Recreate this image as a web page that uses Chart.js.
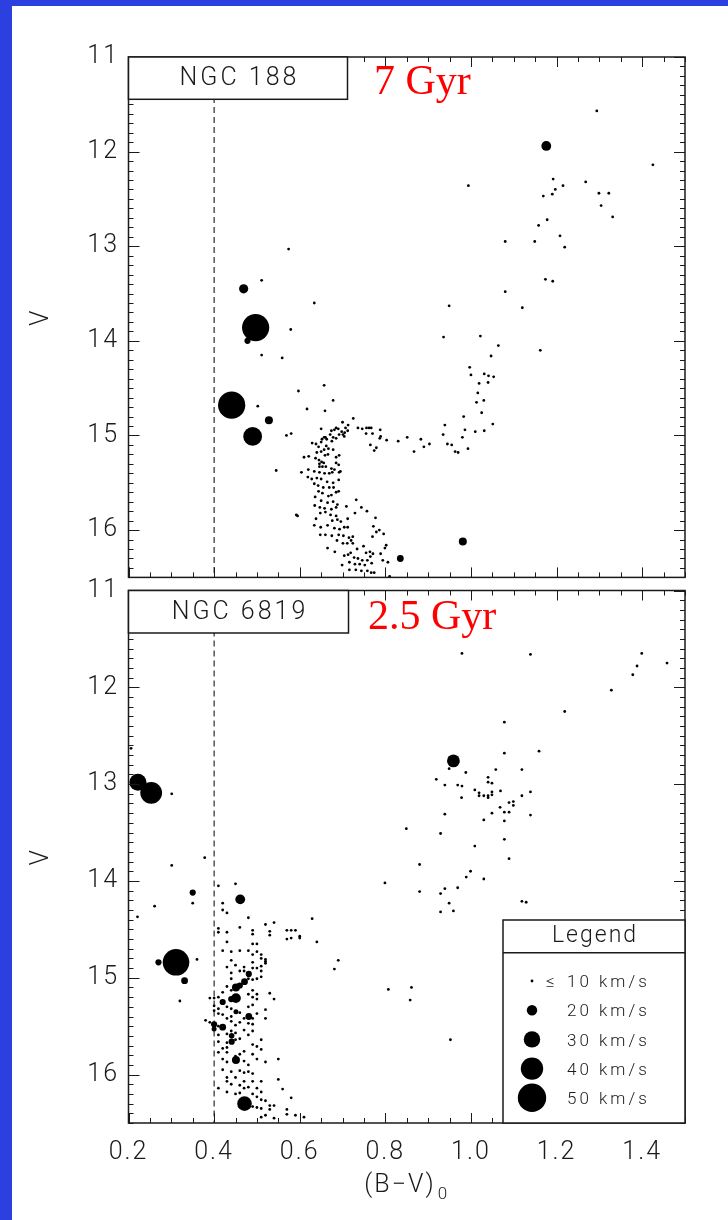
<!DOCTYPE html>
<html>
<head>
<meta charset="utf-8">
<title>NGC 188 and NGC 6819 colour-magnitude diagrams</title>
<script src="https://cdn.jsdelivr.net/npm/chart.js@4.4.1/dist/chart.umd.min.js"></script>
<style>
  html, body { margin: 0; padding: 0; background: #fff; }
  body { width: 728px; height: 1220px; position: relative; overflow: hidden; }
  .edge-left { position: absolute; left: 0; top: 0; width: 12px; height: 1220px; background: #2b40de; }
  .edge-top { position: absolute; left: 0; top: 0; width: 728px; height: 6px; background: #2b40de; }
  canvas { position: absolute; left: 0; }
  #cmdTop { top: 0; width: 728px; height: 591px; }
  #cmdBottom { top: 560px; width: 728px; height: 660px; }
</style>
</head>
<body>
<div class="edge-left"></div>
<div class="edge-top"></div>
<canvas id="cmdTop" width="728" height="591"></canvas>
<canvas id="cmdBottom" width="728" height="660"></canvas>
<script>
// Axis tick labels
const bvTicks = [0.2, 0.4, 0.6, 0.8, 1.0, 1.2, 1.4];
const vTicks = [11, 12, 13, 14, 15, 16];
// Velocity classes shown in the key (km/s)
const legendSpeeds = [10, 20, 30, 40, 50];

// NGC 188, stars moving at <= 10 km/s: [(B-V)0, V]
const ngc188Dots = [
  [1.294,11.57],[1.425,12.14],[0.994,12.36],
  [1.192,12.29],[1.215,12.36],[1.197,12.40],[1.169,12.47],[1.190,12.45],[1.268,12.32],[1.299,12.44],
  [1.322,12.44],[1.304,12.57],[1.331,12.69],[1.178,12.72],[1.158,12.78],[1.208,12.89],[1.149,12.95],
  [1.219,13.01],[1.174,13.35],[1.191,13.37],
  [1.080,12.95],[0.574,13.03],[0.511,13.36],[1.080,13.48],[1.120,13.65],[1.162,14.10],
  [0.634,13.60],[0.949,13.63],[0.579,13.88],[0.936,13.96],[1.022,13.95],[1.064,14.05],[0.511,14.15],
  [0.559,14.18],[1.047,14.16],[0.997,14.28],[1.031,14.35],[1.041,14.37],[1.000,14.36],[1.053,14.38],
  [1.040,14.44],[1.019,14.45],[1.016,14.55],[1.030,14.63],[1.013,14.65],[1.025,14.76],[0.597,14.53],
  [0.657,14.47],[0.502,14.69],[0.678,14.63],[0.617,14.72],[0.659,14.74],[0.983,14.80],[0.939,14.89],
  [1.051,14.88],[1.031,14.95],[1.010,14.96],[0.986,14.94],[0.980,15.02],[0.935,14.99],[0.569,15.00],
  [0.580,14.98],[0.945,15.09],[0.955,15.10],[0.963,15.17],[0.970,15.18],[0.993,15.14],[0.903,15.09],
  [0.883,15.04],[0.890,15.12],[0.867,15.17],[0.851,15.02],[0.830,15.06],[0.803,15.05],[0.789,15.01],
  [0.779,15.13],[0.765,15.10],[0.774,15.16],[0.756,14.92],[0.755,14.98],[0.787,15.03],[0.545,15.37],
  [0.592,15.84],[0.595,15.85],
  [0.725,14.82],[0.700,14.86],[0.713,14.89],[0.707,14.92],[0.690,14.93],[0.685,14.92],[0.681,14.94],
  [0.674,14.95],[0.698,14.96],[0.712,14.95],[0.671,14.99],[0.692,14.99],[0.701,14.99],[0.705,14.97],
  [0.650,14.93],[0.736,14.92],[0.762,14.92],[0.746,14.93],[0.767,14.92],[0.770,14.98],[0.788,14.94],
  [0.657,15.02],[0.652,15.04],[0.660,15.02],[0.678,15.02],[0.685,15.03],[0.704,15.01],[0.650,15.07],
  [0.638,15.09],[0.629,15.08],[0.644,15.12],[0.663,15.04],[0.675,15.06],[0.640,15.18],[0.650,15.17],
  [0.657,15.15],[0.667,15.14],[0.662,15.11],[0.678,15.15],[0.659,15.21],[0.666,15.20],[0.685,15.23],
  [0.692,15.21],[0.685,15.29],[0.691,15.31],[0.610,15.23],[0.621,15.22],[0.637,15.24],[0.645,15.26],
  [0.646,15.30],[0.651,15.28],[0.656,15.29],[0.646,15.33],[0.653,15.33],[0.661,15.33],[0.674,15.35],
  [0.681,15.36],[0.695,15.38],[0.604,15.39],[0.620,15.36],[0.634,15.38],[0.646,15.39],[0.658,15.40],
  [0.669,15.40],[0.676,15.39],[0.692,15.39],[0.619,15.44],[0.628,15.46],[0.640,15.45],[0.650,15.46],
  [0.664,15.49],[0.678,15.50],[0.691,15.47],[0.634,15.51],[0.643,15.53],[0.655,15.55],[0.669,15.55],
  [0.679,15.55],[0.685,15.60],[0.691,15.59],[0.644,15.59],[0.653,15.61],[0.667,15.64],[0.674,15.63],
  [0.636,15.65],[0.650,15.69],[0.665,15.71],[0.678,15.70],[0.688,15.73],[0.635,15.74],[0.647,15.76],
  [0.658,15.77],[0.674,15.78],[0.685,15.76],[0.709,15.75],[0.648,15.82],[0.660,15.81],[0.672,15.84],
  [0.685,15.85],[0.638,15.88],[0.676,15.90],[0.688,15.89],[0.696,15.91],[0.712,15.88],[0.744,15.76],
  [0.757,15.80],[0.732,15.68],[0.729,15.82],[0.634,15.95],[0.649,15.97],[0.665,15.95],[0.681,15.98],
  [0.693,15.99],[0.704,15.97],[0.712,15.97],[0.660,16.05],[0.675,16.06],[0.691,16.05],[0.702,16.06],
  [0.715,16.08],[0.724,16.07],[0.648,16.05],[0.665,16.19],[0.687,16.11],[0.701,16.14],[0.711,16.14],
  [0.720,16.11],[0.724,16.14],[0.734,16.20],[0.749,16.17],[0.755,16.24],[0.764,16.23],[0.771,16.25],
  [0.682,16.23],[0.704,16.27],[0.713,16.26],[0.719,16.24],[0.727,16.29],[0.736,16.30],[0.746,16.32],
  [0.758,16.32],[0.765,16.28],[0.768,16.35],[0.716,16.34],[0.729,16.36],[0.740,16.36],[0.752,16.37],
  [0.699,16.37],[0.716,16.42],[0.731,16.42],[0.744,16.43],[0.758,16.43],[0.767,16.45],[0.774,16.45],
  [0.779,16.02],[0.796,16.04],[0.786,16.00],[0.770,16.07],[0.772,15.96],[0.777,15.87],[0.789,16.25],
  [0.799,16.19],[0.794,16.32],[0.806,16.34],[0.802,16.16],[0.810,16.49]
];

// NGC 188, faster stars: [(B-V)0, V, km/s]
const ngc188Fast = [
  [1.176,11.94,19],[0.469,13.45,18],[0.497,13.86,48],[0.478,14.00,13],[0.441,14.68,48],
  [0.528,14.84,16],[0.490,15.01,34],[0.835,16.30,14],[0.981,16.12,16]
];

// NGC 6819, stars moving at <= 10 km/s: [(B-V)0, V]
const ngc6819Dots = [
  [0.206,12.63],[0.301,13.10],[0.378,13.76],
  [0.301,13.84],[0.41,14.05],[0.45,14.03],[0.261,14.26],[0.350,14.23],[0.42,14.23],[0.42,14.30],
  [0.43,14.33],[0.221,14.37],[0.48,14.38],[0.629,14.39],[0.41,14.49],[0.41,14.53],[0.43,14.53],
  [0.46,14.48],[0.49,14.51],[0.49,14.55],[0.52,14.45],[0.54,14.43],[0.53,14.52],[0.53,14.56],
  [0.57,14.51],[0.58,14.51],[0.59,14.51],[0.57,14.60],[0.58,14.59],[0.60,14.57],[0.60,14.59],
  [0.640,14.63],[0.43,14.63],[0.49,14.65],[0.50,14.65],[0.42,14.72],[0.44,14.73],[0.46,14.72],
  [0.48,14.72],[0.50,14.73],[0.360,14.81],[0.49,14.76],[0.51,14.76],[0.51,14.80],[0.52,14.81],
  [0.52,14.83],[0.52,14.85],[0.690,14.82],[0.681,14.91],[0.43,14.89],[0.44,14.82],[0.45,14.87],
  [0.47,14.89],[0.49,14.84],[0.49,14.90],[0.50,14.90],[0.51,14.88],[0.51,14.93],[0.44,14.95],
  [0.44,15.01],[0.46,14.93],[0.47,14.93],[0.48,15.01],[0.49,15.02],[0.50,15.01],[0.51,14.99],
  [0.43,15.09],[0.44,15.13],[0.42,15.15],[0.41,15.20],[0.40,15.21],[0.39,15.21],[0.49,15.13],
  [0.50,15.17],[0.48,15.17],[0.49,15.20],[0.50,15.22],[0.53,15.16],[0.54,15.22],[0.320,15.24],
  [0.40,15.29],[0.40,15.34],[0.41,15.32],[0.43,15.30],[0.44,15.32],[0.48,15.30],[0.49,15.28],
  [0.41,15.37],[0.42,15.38],[0.43,15.42],[0.44,15.40],[0.46,15.36],[0.47,15.42],[0.49,15.42],
  [0.50,15.37],[0.52,15.42],[0.52,15.33],[0.38,15.44],[0.39,15.46],[0.41,15.50],[0.44,15.45],
  [0.45,15.49],[0.46,15.46],[0.48,15.47],[0.49,15.48],[0.41,15.59],[0.43,15.58],[0.44,15.55],
  [0.45,15.57],[0.47,15.54],[0.49,15.55],[0.41,15.66],[0.43,15.67],[0.45,15.64],[0.46,15.63],
  [0.48,15.59],[0.51,15.64],[0.50,15.71],[0.49,15.69],[0.51,15.74],[0.42,15.73],[0.43,15.72],
  [0.41,15.77],[0.43,15.77],[0.46,15.79],[0.47,15.76],[0.49,15.79],[0.50,15.84],[0.52,15.87],
  [0.55,15.84],[0.42,15.84],[0.43,15.87],[0.45,15.81],[0.47,15.86],[0.48,15.90],[0.42,15.95],
  [0.44,15.97],[0.46,15.96],[0.47,15.98],[0.48,15.97],[0.49,15.99],[0.51,16.07],[0.43,16.03],
  [0.45,16.03],[0.47,16.07],[0.49,16.07],[0.55,16.05],[0.43,16.07],[0.44,16.10],[0.46,16.11],
  [0.47,16.14],[0.48,16.13],[0.50,16.14],[0.51,16.18],[0.56,16.15],[0.49,16.20],[0.50,16.23],
  [0.51,16.26],[0.52,16.27],[0.53,16.32],[0.54,16.32],[0.53,16.36],[0.51,16.35],[0.52,16.42],
  [0.50,16.34],[0.49,16.33],[0.58,16.24],[0.57,16.36],[0.59,16.42],[0.61,16.44],[0.51,16.44],
  [0.54,16.45],[0.57,16.41],[0.45,16.20],[0.46,16.19],[0.43,16.18],[0.41,16.14],
  [0.979,11.65],[1.139,11.66],[1.399,11.65],[1.458,11.75],[1.388,11.78],[1.378,11.87],[1.328,12.03],
  [1.219,12.25],[1.078,12.36],[1.078,12.68],[1.159,12.66],[0.949,12.84],[0.988,12.88],[1.058,12.85],
  [1.119,12.85],[0.919,12.95],[0.939,13.01],[0.969,13.01],[0.979,13.02],[0.978,13.14],[1.040,12.93],
  [1.040,12.98],[1.049,12.99],[1.009,13.06],[1.019,13.09],[1.019,13.12],[1.030,13.12],[1.040,13.12],
  [1.040,13.14],[1.049,13.08],[1.049,13.11],[1.069,13.07],[1.139,13.08],[1.119,13.12],[1.068,13.24],
  [1.089,13.19],[1.099,13.18],[1.099,13.22],[1.089,13.29],[1.078,13.29],[1.049,13.30],[1.139,13.32],
  [0.939,13.31],[1.030,13.37],[1.078,13.38],[0.849,13.46],[0.929,13.51],[1.078,13.57],[1.009,13.64],
  [1.089,13.77],[0.880,13.83],[0.999,13.90],[0.989,13.96],[1.030,13.98],[0.799,14.02],[0.880,14.11],
  [0.929,14.13],[0.939,14.08],[0.969,14.07],[0.949,14.23],[0.929,14.32],[0.959,14.31],[1.119,14.21],
  [1.129,14.22],[0.807,15.12],[0.861,15.10],[0.858,15.23],[0.952,15.64]
];

// NGC 6819, faster stars: [(B-V)0, V, km/s]
const ngc6819Fast = [
  [0.222,12.98,31],[0.253,13.09,39],[0.959,12.76,24],[0.350,14.12,13],[0.461,14.19,19],
  [0.311,14.84,47],[0.270,14.84,13],[0.331,15.03,14],[0.481,14.96,13],[0.471,15.04,14],
  [0.451,15.10,16],[0.460,15.08,13],[0.451,15.21,19],[0.440,15.22,13],[0.420,15.25,13],
  [0.451,15.35,11],[0.481,15.40,14],[0.400,15.48,13],[0.400,15.53,11],[0.420,15.51,14],
  [0.441,15.60,12],[0.441,15.66,13],[0.451,15.85,16],[0.471,16.30,27]
];

const SANS = 'Roboto, "DejaVu Sans", sans-serif';
const INK = '#1a1a1a';

// Marker radius (px) for a star's velocity
function speedRadius(kms) {
  return kms <= 10 ? 1.4 : 0.3 * kms - 0.8;
}

// Frame, inward tick marks, cluster tag, age and (optionally) the velocity key
const cmdDecor = {
  id: 'cmdDecor',
  beforeDraw(chart) {
    chart.ctx.letterSpacing = '2px';
  },
  afterDraw(chart, args, o) {
    const { ctx, chartArea: a } = chart;
    const xs = chart.scales.x, ys = chart.scales.y;
    ctx.save();
    ctx.letterSpacing = '0px';

    // minor/major ticks on all four sides
    ctx.strokeStyle = INK;
    ctx.lineWidth = 1;
    ctx.beginPath();
    for (let i = 0; i <= 26; i++) {
      const px = Math.round(xs.getPixelForValue(0.2 + i * 0.05)) + 0.5;
      const len = i % 4 === 0 ? 10 : 5;
      ctx.moveTo(px, a.bottom); ctx.lineTo(px, a.bottom - len);
      ctx.moveTo(px, a.top); ctx.lineTo(px, a.top + len);
    }
    for (let j = 0; j <= 55; j++) {
      const py = Math.round(ys.getPixelForValue(11 + j * 0.1)) + 0.5;
      const len = j % 10 === 0 ? 11 : 5;
      ctx.moveTo(a.left, py); ctx.lineTo(a.left + len, py);
      ctx.moveTo(a.right, py); ctx.lineTo(a.right - len, py);
    }
    ctx.stroke();

    ctx.lineWidth = 1.5;
    ctx.strokeRect(a.left, a.top, a.right - a.left, a.bottom - a.top);

    // cluster name tag
    ctx.fillStyle = '#fff';
    ctx.fillRect(a.left, a.top, o.tagWidth, o.tagHeight);
    ctx.strokeRect(a.left, a.top, o.tagWidth, o.tagHeight);
    ctx.fillStyle = INK;
    ctx.font = `300 25px ${SANS}`;
    ctx.letterSpacing = '3px';
    ctx.textAlign = 'center';
    ctx.textBaseline = 'middle';
    ctx.fillText(o.name, a.left + o.tagWidth / 2 + 1.5, a.top + o.tagHeight / 2 + 1);

    // age
    ctx.letterSpacing = '0px';
    ctx.fillStyle = '#ff0000';
    ctx.font = '42px "Liberation Serif", "Times New Roman", serif';
    ctx.textAlign = 'left';
    ctx.textBaseline = 'alphabetic';
    ctx.fillText(o.age, a.left + o.ageDx, a.top + o.ageDy);

    if (o.key) {
      const lw = 182, lh = 203;
      const lx = a.right - lw, ly = a.bottom - lh;
      ctx.fillStyle = '#fff';
      ctx.fillRect(lx, ly, lw, lh);
      ctx.strokeStyle = INK;
      ctx.lineWidth = 1.5;
      ctx.strokeRect(lx, ly, lw, lh);
      ctx.beginPath();
      ctx.moveTo(lx, ly + 32.7);
      ctx.lineTo(a.right, ly + 32.7);
      ctx.stroke();

      ctx.fillStyle = INK;
      ctx.font = `300 23px ${SANS}`;
      ctx.letterSpacing = '2px';
      ctx.textAlign = 'center';
      ctx.fillText('Legend', lx + lw / 2 + 1, ly + 21.7);

      legendSpeeds.forEach((s, k) => {
        const cy = ly + 61 + k * 29.2;
        ctx.fillStyle = '#000';
        ctx.beginPath();
        ctx.arc(lx + 29, cy, speedRadius(s), 0, Math.PI * 2);
        ctx.fill();
        ctx.fillStyle = INK;
        ctx.font = `300 17px ${SANS}`;
        ctx.letterSpacing = '3px';
        ctx.textAlign = 'left';
        ctx.fillText(`${s} km/s`, lx + 64, cy + 6.2);
        if (k === 0) {
          ctx.letterSpacing = '0px';
          ctx.textAlign = 'center';
          ctx.fillText('\u2264', lx + 47, cy + 6.2);
        }
      });
    }

    if (o.xTitle) {
      const cx = (a.left + a.right) / 2, cy = a.bottom + 63;
      ctx.fillStyle = INK;
      ctx.letterSpacing = '2px';
      ctx.font = `300 25px ${SANS}`;
      const main = '(B\u2212V)';
      const w1 = ctx.measureText(main).width;
      ctx.font = `300 17px ${SANS}`;
      const w2 = ctx.measureText('0').width;
      const x0 = cx - (w1 + 2 + w2) / 2;
      ctx.textAlign = 'left';
      ctx.textBaseline = 'middle';
      ctx.font = `300 25px ${SANS}`;
      ctx.fillText(main, x0, cy);
      ctx.font = `300 17px ${SANS}`;
      ctx.fillText('0', x0 + w1 + 2, cy + 9);
    }
    ctx.restore();
  }
};

const tickFont = { family: SANS, size: 25, weight: '300' };

function buildPanel(canvasId, dots, fast, decor, isBottom) {
  return new Chart(document.getElementById(canvasId), {
    type: 'scatter',
    data: {
      datasets: [
        {
          // blue edge of the main sequence, (B-V)0 = 0.4
          type: 'line',
          data: [{ x: 0.4, y: 11 }, { x: 0.4, y: 16.5 }],
          borderColor: '#000',
          borderWidth: 1,
          borderDash: [6, 4],
          pointRadius: 0,
          fill: false
        },
        {
          data: dots.map(([bv, v]) => ({ x: bv, y: v })),
          pointRadius: speedRadius(10),
          pointHoverRadius: speedRadius(10),
          pointBackgroundColor: '#000',
          pointBorderWidth: 0
        },
        {
          data: fast.map(([bv, v]) => ({ x: bv, y: v })),
          pointRadius: fast.map(s => speedRadius(s[2])),
          pointHoverRadius: fast.map(s => speedRadius(s[2])),
          pointBackgroundColor: '#000',
          pointBorderWidth: 0
        }
      ]
    },
    options: {
      responsive: false,
      animation: false,
      events: [],
      devicePixelRatio: 1,
      layout: {
        padding: isBottom
          ? { top: 30.5, left: 0, right: 43, bottom: 0 }
          : { top: 57, left: 0, right: 43, bottom: 0.5 }
      },
      plugins: {
        legend: { display: false },
        tooltip: { enabled: false },
        cmdDecor: decor
      },
      scales: {
        x: {
          type: 'linear',
          min: 0.2,
          max: 1.5,
          display: isBottom,
          afterBuildTicks: s => { s.ticks = bvTicks.map(value => ({ value })); },
          afterFit: s => {
            s.height = isBottom ? 97 : 0;
            s.paddingLeft = 0; s.paddingRight = 0;
          },
          grid: { display: false, drawTicks: false },
          border: { display: false },
          ticks: {
            padding: 15,
            color: INK,
            font: tickFont,
            maxRotation: 0,
            autoSkip: false,
            callback: v => Number(v).toFixed(1)
          }
        },
        y: {
          type: 'linear',
          reverse: true,
          min: 11,
          max: 16.5,
          afterBuildTicks: s => { s.ticks = vTicks.map(value => ({ value })); },
          afterFit: s => {
            s.width = 128.5;
            s.paddingTop = 0; s.paddingBottom = 0;
          },
          grid: { display: false, drawTicks: false },
          border: { display: false },
          ticks: { padding: 9.5, color: INK, font: tickFont, autoSkip: false },
          title: {
            display: true,
            text: 'V',
            color: INK,
            font: tickFont,
            padding: { top: 27, bottom: 0 }
          }
        }
      }
    },
    plugins: [cmdDecor]
  });
}

buildPanel('cmdTop', ngc188Dots, ngc188Fast, {
  name: 'NGC 188', age: '7 Gyr', tagWidth: 219, tagHeight: 42.3, ageDx: 245.5, ageDy: 37,
  key: false, xTitle: false
}, false);

buildPanel('cmdBottom', ngc6819Dots, ngc6819Fast, {
  name: 'NGC 6819', age: '2.5 Gyr', tagWidth: 220, tagHeight: 42.5, ageDx: 239.5, ageDy: 38.5,
  key: true, xTitle: true
}, true);
</script>
</body>
</html>
